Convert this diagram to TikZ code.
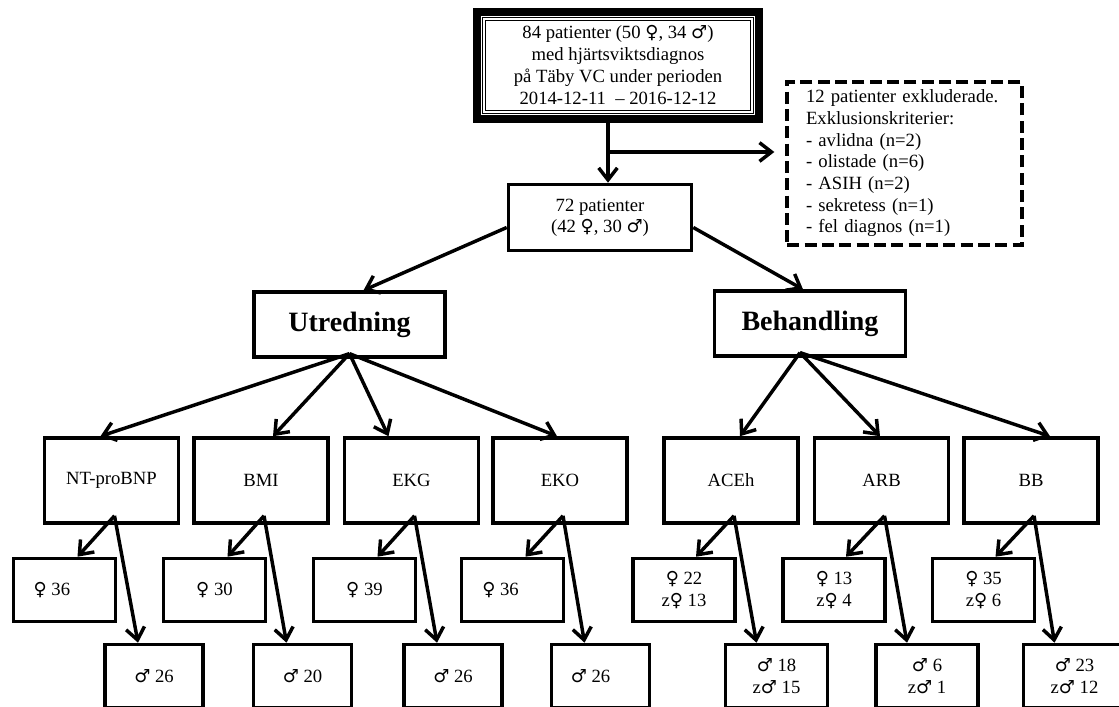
\documentclass[tikz,border=0pt]{standalone}
\usepackage{fontspec}
\setmainfont{Liberation Serif}
\newfontfamily\gsym{DejaVu Sans}
\usetikzlibrary{arrows.meta,calc}

\newcommand{\fem}{{\gsym\fontsize{13.5}{15}\selectfont ♀}}
\newcommand{\mal}{{\gsym\fontsize{13.5}{15}\selectfont ♂}}

\tikzset{
  box/.style={draw, line width=2.7pt, inner sep=2pt, align=center, font=\fontsize{14}{16}\selectfont},
  headbox/.style={box, minimum width=143pt, minimum height=48.5pt, font=\fontsize{21}{24}\selectfont\bfseries},
  testbox/.style={box, minimum width=100.5pt, minimum height=63.75pt},
  subbox/.style={box, minimum width=76.5pt, minimum height=47.25pt},
  arr/.style={line width=2.6pt, -{Straight Barb[length=9pt,width=14pt]}},
}

\begin{document}
\begin{tikzpicture}[x=0.75pt,y=0.75pt,yscale=-1]
    \useasboundingbox (0,0) rectangle (1119,706);
    \clip (0,0) rectangle (1119,706);

    %Top box
    \node[box, line width=6pt, minimum width=211.5pt, minimum height=80.25pt, font=\fontsize{14}{16.5}\selectfont] (main) at (618,65.5)
        {84 patienter (50 \fem, 34 \mal)\\med hjärtsviktsdiagnos\\på Täby VC under perioden\\2014-12-11\ \ – 2016-12-12};
    \draw[line width=0.6pt, double, double distance=1.2pt] ($(main.north west)+(11,11)$) rectangle ($(main.south east)+(-11,-11)$);
    %Excluded
    \node[box, dashed, dash pattern=on 9pt off 4pt, line width=3pt, align=left, inner xsep=14pt,
          text width=147.75pt, minimum height=122.25pt, font=\fontsize{14}{16.25}\selectfont] (excl) at (904.5,163.5)
        {12 patienter exkluderade.\\Exklusionskriterier:\\- avlidna (n=2)\\- olistade (n=6)\\- ASIH (n=2)\\- sekretess (n=1)\\- fel diagnos (n=1)};
    %Remaining patients
    \node[box, minimum width=137.25pt, minimum height=49.5pt] (pat) at (600,217.5) {72 patienter\\(42 \fem, 30 \mal)};
    \coordinate (split) at (608,152);
    \draw[arr] (main.south -| split) -- (pat.north -| split);
    \draw[arr] (split) -- ($(excl.west |- split)+(-11,0)$);

    %Groups
    \node[headbox] (utr) at (349.5,324.5) {Utredning};
    \node[headbox] (beh) at (810,323.5) {Behandling};
    \draw[arr] ($(pat.west)+(0,10)$) -- ($(utr.north)+(14,0)$);
    \draw[arr] ($(pat.east)+(0,10)$) -- ($(beh.north)+(-7,0)$);

    %Utredning tests
    \node[testbox] (ntp) at (111.5,480.5) {NT-proBNP};
    \node[testbox] (bmi) at (261,480.5) {BMI};
    \node[testbox] (ekg) at (411.5,480.5) {EKG};
    \node[testbox] (eko) at (560,480.5) {EKO};
    \coordinate (utrb) at ($(utr.south)+(0,-5)$);
    \draw[arr] (utrb) -- ($(ntp.north)+(-11,0)$);
    \draw[arr] (utrb) -- ($(bmi.north)+(12,0)$);
    \draw[arr] (utrb) -- ($(ekg.north)+(-23,0)$);
    \draw[arr] (utrb) -- ($(eko.north)+(-3,0)$);

    %Behandling drugs
    \node[testbox] (ace) at (731,480.5) {ACEh};
    \node[testbox] (arb) at (881.5,480.5) {ARB};
    \node[testbox] (bb) at (1031,480.5) {BB};
    \coordinate (behb) at ($(beh.south)+(-10,-5)$);
    \draw[arr] (behb) -- ($(ace.north)+(9,0)$);
    \draw[arr] (behb) -- ($(arb.north)+(-1.5,0)$);
    \draw[arr] (behb) -- ($(bb.north)+(19,0)$);

    %Women
    \node[subbox] (ntpf) at (64.5,590) {\fem\ 36\hspace*{19pt}};
    \node[subbox] (bmif) at (214.5,590) {\fem\ 30};
    \node[subbox] (ekgf) at (364.5,590) {\fem\ 39};
    \node[subbox] (ekof) at (512.5,590) {\fem\ 36\hspace*{18pt}};
    \node[subbox] (acef) at (684,590) {\fem\ 22\\z\fem\ 13};
    \node[subbox] (arbf) at (834,590) {\fem\ 13\\z\fem\ 4};
    \node[subbox] (bbf) at (983.5,590) {\fem\ 35\\z\fem\ 6};

    %Men
    \node[subbox, minimum width=73.5pt] (ntpm) at (154,676) {\mal\ 26};
    \node[subbox, minimum width=73.5pt] (bmim) at (302.5,676) {\mal\ 20};
    \node[subbox, minimum width=73.5pt] (ekgm) at (453,676) {\mal\ 26};
    \node[subbox, minimum width=73.5pt] (ekom) at (600.5,676) {\mal\ 26\hspace*{15pt}};
    \node[subbox] (acem) at (776.5,676) {\mal\ 18\\z\mal\ 15};
    \node[subbox] (arbm) at (927,676) {\mal\ 6\\z\mal\ 1};
    \node[subbox] (bbm) at (1074.5,676) {\mal\ 23\\z\mal\ 12};

    %Splits by sex
    \draw[arr] ($(ntp.south)+(3,-9)$) -- ($(ntpf.north)+(13,0)$);
    \draw[arr] ($(ntp.south)+(3,-9)$) -- ($(ntpm.north)+(-16,0)$);
    \draw[arr] ($(bmi.south)+(3,-9)$) -- ($(bmif.north)+(13,0)$);
    \draw[arr] ($(bmi.south)+(3,-9)$) -- ($(bmim.north)+(-16,0)$);
    \draw[arr] ($(ekg.south)+(3,-9)$) -- ($(ekgf.north)+(13,0)$);
    \draw[arr] ($(ekg.south)+(3,-9)$) -- ($(ekgm.north)+(-16,0)$);
    \draw[arr] ($(eko.south)+(3,-9)$) -- ($(ekof.north)+(13,0)$);
    \draw[arr] ($(eko.south)+(3,-9)$) -- ($(ekom.north)+(-16,0)$);
    \draw[arr] ($(ace.south)+(3,-9)$) -- ($(acef.north)+(12,0)$);
    \draw[arr] ($(ace.south)+(3,-9)$) -- ($(acem.north)+(-20,0)$);
    \draw[arr] ($(arb.south)+(3,-9)$) -- ($(arbf.north)+(12,0)$);
    \draw[arr] ($(arb.south)+(3,-9)$) -- ($(arbm.north)+(-20,0)$);
    \draw[arr] ($(bb.south)+(3,-9)$) -- ($(bbf.north)+(12,0)$);
    \draw[arr] ($(bb.south)+(3,-9)$) -- ($(bbm.north)+(-20,0)$);
\end{tikzpicture}
\end{document}
